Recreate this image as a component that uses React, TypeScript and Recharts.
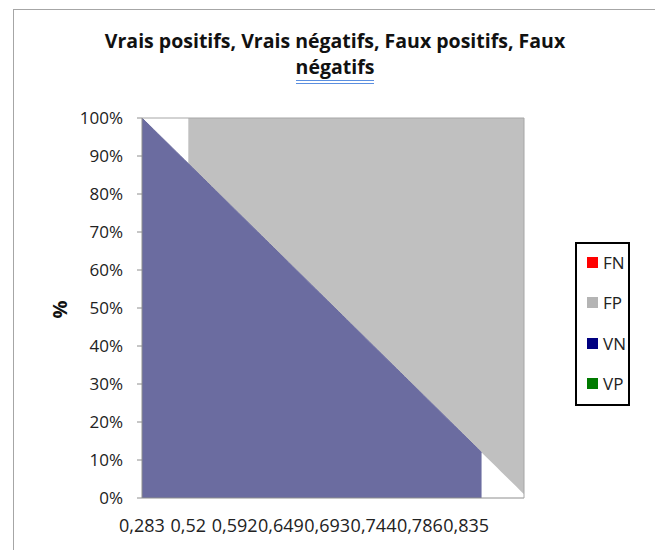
import { ComposedChart, Area, XAxis, YAxis } from 'recharts';

// seuils (catégories de l'axe X)
const thresholds = [
  0.283, 0.331, 0.362, 0.389, 0.41, 0.428, 0.443, 0.457, 0.469, 0.481,
  0.493, 0.505, 0.52, 0.527, 0.533, 0.538, 0.544, 0.55, 0.556, 0.562,
  0.568, 0.574, 0.58, 0.586, 0.592, 0.597, 0.601, 0.606, 0.611, 0.616,
  0.621, 0.626, 0.631, 0.636, 0.64, 0.645, 0.649, 0.653, 0.657, 0.66,
  0.664, 0.668, 0.671, 0.675, 0.679, 0.682, 0.686, 0.689, 0.693, 0.697,
  0.701, 0.706, 0.71, 0.714, 0.718, 0.723, 0.727, 0.731, 0.735, 0.74,
  0.744, 0.748, 0.751, 0.755, 0.758, 0.762, 0.765, 0.769, 0.772, 0.776,
  0.779, 0.783, 0.786, 0.79, 0.794, 0.798, 0.802, 0.806, 0.81, 0.814,
  0.818, 0.822, 0.826, 0.831, 0.835, 0.84, 0.845, 0.85, 0.856, 0.862,
  0.868, 0.874, 0.881, 0.888, 0.896, 0.904, 0.913, 0.923, 0.935, 0.951,
];

// vrais négatifs (%)
const vn = [
  100, 99, 98, 97, 96, 95, 94, 93, 92, 91,
  90, 89, 88, 87, 86, 85, 84, 83, 82, 81,
  80, 79, 78, 77, 76, 75, 74, 73, 72, 71,
  70, 69, 68, 67, 66, 65, 64, 63, 62, 61,
  60, 59, 58, 57, 56, 55, 54, 53, 52, 51,
  50, 49, 48, 47, 46, 45, 44, 43, 42, 41,
  40, 39, 38, 37, 36, 35, 34, 33, 32, 31,
  30, 29, 28, 27, 26, 25, 24, 23, 22, 21,
  20, 19, 18, 17, 16, 15, 14, 13, 12, null,
  null, null, null, null, null, null, null, null, null, null,
];

// faux positifs (%), au-dessus des VN
const fp = [
  null, null, null, null, null, null, null, null, null, null,
  null, null, 12, 13, 14, 15, 16, 17, 18, 19,
  20, 21, 22, 23, 24, 25, 26, 27, 28, 29,
  30, 31, 32, 33, 34, 35, 36, 37, 38, 39,
  40, 41, 42, 43, 44, 45, 46, 47, 48, 49,
  50, 51, 52, 53, 54, 55, 56, 57, 58, 59,
  60, 61, 62, 63, 64, 65, 66, 67, 68, 69,
  70, 71, 72, 73, 74, 75, 76, 77, 78, 79,
  80, 81, 82, 83, 84, 85, 86, 87, 88, 89,
  90, 91, 92, 93, 94, 95, 96, 97, 98, 99,
];

const xTickLabels = [0.283, 0.52, 0.592, 0.649, 0.693, 0.744, 0.786, 0.835];
const yTicks = [0, 10, 20, 30, 40, 50, 60, 70, 80, 90, 100];

const legendItems = [
  { name: 'FN', color: '#FF0000' },
  { name: 'FP', color: '#B4B4B4' },
  { name: 'VN', color: '#000080' },
  { name: 'VP', color: '#007A00' },
];

const data = thresholds.map((t, i) => ({ t, vn: vn[i], fp: fp[i] }));

// FP is drawn from the top of the VN share up to 100 %
const fpRange = (d: { fp: number | null }) => (d.fp == null ? null : [100 - d.fp, 100]);

const font = '"Open Sans", sans-serif';
const axisGrey = '#8E8E8E';
const vnColor = '#6B6CA0';
const fpColor = '#C0C0C0';

export default function App() {
  return (
    <div style={{ position: 'absolute', left: 0, top: 0, width: 655, height: 550, background: '#fff', fontFamily: font }}>
      <div style={{ position: 'absolute', left: 13, top: 9, right: 0, bottom: 0, borderTop: '1px solid #A6A6A6', borderLeft: '1px solid #A6A6A6' }} />
      <div style={{ position: 'absolute', left: 0, top: 28, width: 670, textAlign: 'center', fontWeight: 700, fontSize: 19.5, lineHeight: '26px', color: '#111' }}>
        Vrais positifs, Vrais négatifs, Faux positifs, Faux
        <br />
        <span style={{ borderBottom: '4px double #5B8FE0' }}>négatifs</span>
      </div>
      <div style={{ position: 'absolute', left: 44, top: 296, width: 30, textAlign: 'center', fontWeight: 700, fontSize: 20, color: '#111', transform: 'rotate(-90deg)' }}>
        %
      </div>

      <div style={{ position: 'absolute', left: 0, top: 0 }}>
        <ComposedChart width={655} height={550} data={data}
          margin={{ top: 117, right: 130, bottom: 22, left: 0 }}>
          <XAxis xAxisId="x" dataKey="t" type="category" scale="point" ticks={xTickLabels} interval={0}
            tickFormatter={(v) => String(v).replace('.', ',')}
            tick={{ fontSize: 18, fill: '#222', fontFamily: font }}
            tickSize={0} tickMargin={21} height={30}
            axisLine={{ stroke: axisGrey }} />
          <XAxis xAxisId="top" dataKey="t" type="category" scale="point" orientation="top" tick={false} tickLine={false}
            height={1} axisLine={{ stroke: '#A6A6A6' }} />
          <YAxis domain={[0, 100]} ticks={yTicks} tickFormatter={(v) => `${v}%`} width={142}
            tick={{ fontSize: 17, fill: '#222', fontFamily: font }}
            tickSize={5} tickMargin={14}
            axisLine={{ stroke: axisGrey }} tickLine={{ stroke: axisGrey }} />
          <YAxis yAxisId="r" orientation="right" domain={[0, 100]} tick={false} tickLine={false} width={1}
            axisLine={{ stroke: '#A6A6A6' }} />
          <Area xAxisId="x" type="linear" dataKey={fpRange} name="FP" fill={fpColor} fillOpacity={1}
            stroke="none" dot={false} activeDot={false} isAnimationActive={false} />
          <Area xAxisId="x" type="linear" dataKey="vn" name="VN" fill={vnColor} fillOpacity={1}
            stroke={vnColor} strokeWidth={1} dot={false} activeDot={false} isAnimationActive={false} />
        </ComposedChart>
      </div>

      <div style={{ position: 'absolute', left: 575, top: 242, width: 51, height: 160, border: '2px solid #000', background: '#fff' }}>
        {legendItems.map((it, i) => (
          <div key={it.name} style={{ position: 'absolute', left: 10, top: 7 + i * 40.6, height: 22, display: 'flex', alignItems: 'center', fontSize: 17, color: '#222' }}>
            <span style={{ display: 'inline-block', width: 11, height: 11, background: it.color, marginRight: 5 }} />
            {it.name}
          </div>
        ))}
      </div>
    </div>
  );
}
